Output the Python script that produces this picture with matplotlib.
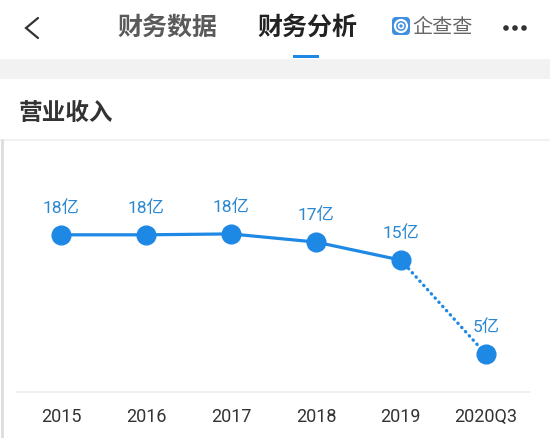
import matplotlib
matplotlib.use("Agg")
import matplotlib.pyplot as plt
from matplotlib.patches import Rectangle, FancyBboxPatch, Circle
from matplotlib.lines import Line2D

plt.rcParams['font.family'] = ['Noto Sans CJK SC', 'DejaVu Sans']

categories = ['2015', '2016', '2017', '2018', '2019', '2020Q3']
values = [18.1, 18.1, 18.2, 17.3, 15.3, 4.9]
labels = ['18亿', '18亿', '18亿', '17亿', '15亿', '5亿']
title = '营业收入'
tabs = ['财务数据', '财务分析']
brand = '企查查'

W, H = 550, 439
fig = plt.figure(figsize=(W / 100, H / 100), dpi=100)
fig.patch.set_facecolor('white')

# overlay in pixel coordinates
ov = fig.add_axes([0, 0, 1, 1])
ov.set_xlim(0, W)
ov.set_ylim(H, 0)
ov.axis('off')

blue = '#1e88e5'

# header
ov.add_line(Line2D([38, 26, 38], [19, 29, 39], color='#333333', lw=1.6,
                   solid_capstyle='round', solid_joinstyle='miter'))
ov.text(167, 28, tabs[0], fontsize=18, fontweight='bold', color='#5a5a5a',
        ha='center', va='center')
ov.text(307, 28, tabs[1], fontsize=18, fontweight='bold', color='#222222',
        ha='center', va='center')
ov.add_patch(Rectangle((293, 56), 26, 3, color=blue, lw=0))
# brand logo
ov.add_patch(FancyBboxPatch((392, 18), 18, 18, boxstyle='round,pad=0,rounding_size=4',
                            color='#3f8fe0', lw=0))
ov.add_patch(Circle((401, 27), 6, facecolor='none', edgecolor='white', lw=1.6))
ov.add_patch(Circle((401, 27), 2.5, facecolor='none', edgecolor='white', lw=1.2))
ov.text(443, 28, brand, fontsize=14.5, color='#666666', ha='center', va='center')
for cx in (506, 515, 524):
    ov.add_patch(Circle((cx, 29), 2.8, color='#333333', lw=0))

# gray band
ov.add_patch(Rectangle((0, 60), W, 20, color='#f2f2f2', lw=0))
ov.text(19, 113, title, fontsize=17, fontweight='bold', color='#333333',
        ha='left', va='center')
# separator and left border
ov.add_line(Line2D([0, W], [141, 141], color='#efefef', lw=1.2))
ov.add_line(Line2D([1.5, 1.5], [141, H], color='#dddddd', lw=2))

# chart
ax = fig.add_axes([16 / W, (H - 393) / H, (530 - 16) / W, (393 - 150) / H])
ax.patch.set_alpha(0)
x = list(range(len(categories)))
ax.plot(x[:5], values[:5], color=blue, lw=2.3, solid_capstyle='round', zorder=2)
ax.plot(x[4:], values[4:], color=blue, lw=2.4, linestyle=(0, (0.1, 1.6)),
        dash_capstyle='round', zorder=2)
ax.plot(x, values, 'o', color=blue, markersize=13.5, zorder=3)
for xi, v, lab in zip(x, values, labels):
    ax.annotate(lab, (xi, v), xytext=(0, 20), textcoords='offset points',
                ha='center', va='center', fontsize=12.5, color='#2b88d0',
                family=['Roboto', 'Noto Sans CJK SC'])
ax.set_xlim(-0.53, 5.52)
ax.set_ylim(0.7, 27.6)
ax.set_xticks(x)
ax.set_xticklabels(categories, fontsize=13, color='#333333', family='Roboto')
ax.tick_params(axis='x', length=0, pad=11)
ax.set_yticks([])
for s in ('top', 'left', 'right'):
    ax.spines[s].set_visible(False)
ax.spines['bottom'].set_color('#eeeeee')
ax.spines['bottom'].set_linewidth(1.2)

fig.savefig('out.png', dpi=100)
